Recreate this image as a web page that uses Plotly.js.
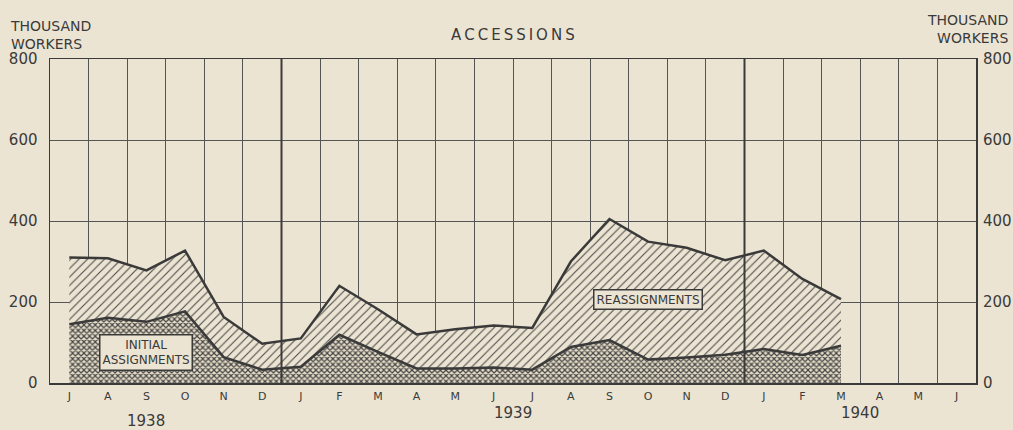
<!DOCTYPE html>
<html>
<head>
<meta charset="utf-8">
<script src="https://cdn.plot.ly/plotly-3.0.1.min.js"></script>
<style>
html,body{margin:0;padding:0;background:#ece4d2;}
#chart{width:1013px;height:430px;}
</style>
</head>
<body>
<div id="chart"></div>
<script>
// Months July 1938 - June 1940
const months = ["J","A","S","O","N","D","J","F","M","A","M","J","J","A","S","O","N","D","J","F","M","A","M","J"];
// Thousand workers, July 1938 - March 1940
const totalAccessions = [310, 308, 278, 327, 163, 97, 110, 240, 182, 120, 133, 142, 136, 300, 405, 349, 334, 303, 327, 257, 207];
const initialAssignments = [145, 161, 151, 177, 64, 33, 40, 119, 77, 36, 36, 38, 33, 89, 106, 58, 63, 70, 84, 69, 92];
const yearLabels = ["1938", "1939", "1940"];
const yearLabelMonth = [2, 11.5, 20.5];
const yearStartIndex = [6, 18];
const yTicks = [0, 200, 400, 600, 800];

const idx = months.map((m, i) => i);
const dataIdx = totalAccessions.map((v, i) => i);
const boundaries = idx.slice(1).map(i => i - 0.5);

const ink = "#3a3a3a";
const bg = "#ece4d2";
const font = "DejaVu Sans, sans-serif";

const traces = [
  {
    x: dataIdx, y: initialAssignments, type: "scatter", mode: "lines",
    line: {color: ink, width: 2.5},
    fill: "tozeroy",
    fillcolor: bg,
    fillpattern: {shape: "x", size: 4, solidity: 0.5, fgcolor: "#454545", bgcolor: "#e6ddc8"},
    hoverinfo: "skip", showlegend: false
  },
  {
    x: dataIdx, y: totalAccessions, type: "scatter", mode: "lines",
    line: {color: ink, width: 2.5},
    fill: "tonexty",
    fillcolor: bg,
    fillpattern: {shape: "/", size: 6, solidity: 0.18, fgcolor: "#4a4a4a", bgcolor: "#ece4d2"},
    hoverinfo: "skip", showlegend: false
  },
  // dummy trace for right axis
  {x: [0], y: [0], yaxis: "y2", xaxis: "x", mode: "none", type: "scatter", hoverinfo: "skip", showlegend: false},
  // dummy trace for month-boundary grid axis
  {x: [0], y: [0], xaxis: "x2", mode: "none", type: "scatter", hoverinfo: "skip", showlegend: false}
];

const shapes = yearStartIndex.map(i => ({
  type: "line", xref: "x", yref: "paper", x0: i - 0.5, x1: i - 0.5, y0: 0, y1: 1,
  line: {color: ink, width: 2}, layer: "above"
}));

const titleText = "ACCESSIONS".split("").join("\u2009");

const annotations = [
  {text: titleText, xref: "paper", yref: "paper", x: 0.5, y: 1, yshift: 24, showarrow: false,
   font: {family: font, size: 15, color: ink}, xanchor: "center", yanchor: "middle"},
  {text: "THOUSAND<br>WORKERS", xref: "paper", yref: "paper", x: 0, xshift: -42, y: 1, yshift: 24,
   showarrow: false, align: "left", xanchor: "left", yanchor: "middle",
   font: {family: font, size: 14, color: ink}},
  {text: "THOUSAND<br>WORKERS", xref: "paper", yref: "paper", x: 1, xshift: 34, y: 1, yshift: 30,
   showarrow: false, align: "right", xanchor: "right", yanchor: "middle",
   font: {family: font, size: 14, color: ink}},
  {text: "INITIAL<br>ASSIGNMENTS", xref: "x", yref: "y", x: 2, y: 75, showarrow: false,
   font: {family: font, size: 12, color: ink}, bgcolor: bg, bordercolor: ink, borderwidth: 1.5, borderpad: 2},
  {text: "REASSIGNMENTS", xref: "x", yref: "y", x: 15, y: 205, showarrow: false,
   font: {family: font, size: 12, color: ink}, bgcolor: bg, bordercolor: ink, borderwidth: 1.5, borderpad: 2}
];
yearLabels.forEach((t, i) => annotations.push({
  text: t, xref: "x", yref: "paper", x: yearLabelMonth[i], y: 0, yshift: i === 0 ? -38 : -30,
  showarrow: false, font: {family: font, size: 15, color: ink}, yanchor: "middle"
}));

const layout = {
  width: 1013, height: 430,
  paper_bgcolor: bg, plot_bgcolor: bg,
  margin: {l: 50, r: 37, t: 59, b: 47},
  font: {family: font, color: ink},
  xaxis: {
    range: [-0.5, months.length - 0.5], tickvals: idx, ticktext: months,
    showgrid: false, zeroline: false, ticks: "", ticklabelstandoff: 2,
    tickfont: {size: 11, color: ink},
    showline: true, mirror: true, linecolor: ink, linewidth: 1.5, fixedrange: true
  },
  xaxis2: {
    overlaying: "x", range: [-0.5, months.length - 0.5], tickvals: boundaries,
    showticklabels: false, showgrid: true, gridcolor: "#555", gridwidth: 1, zeroline: false, ticks: "",
    showline: false, fixedrange: true
  },
  yaxis: {
    range: [0, 800], tickvals: yTicks, showgrid: true, gridcolor: "#555", gridwidth: 1,
    zeroline: false, ticks: "", ticklabelstandoff: 8, tickfont: {size: 15, color: ink},
    showline: true, mirror: true, linecolor: ink, linewidth: 1.5, fixedrange: true
  },
  yaxis2: {
    overlaying: "y", side: "right", range: [0, 800], tickvals: yTicks, showgrid: false,
    zeroline: false, ticks: "", ticklabelstandoff: 6, tickfont: {size: 15, color: ink}, fixedrange: true
  },
  shapes: shapes,
  annotations: annotations
};

Plotly.newPlot("chart", traces, layout, {displayModeBar: false, staticPlot: true});
</script>
</body>
</html>
